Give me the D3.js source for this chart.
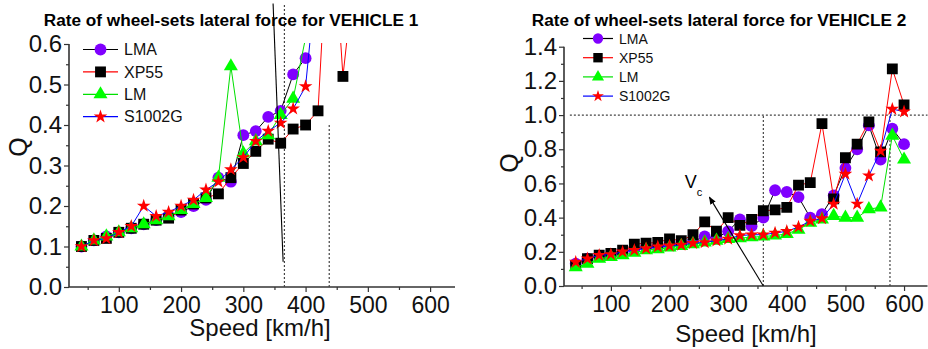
<!DOCTYPE html>
<html>
<head>
<meta charset="utf-8">
<script src="https://cdn.jsdelivr.net/npm/d3@7"></script>
<style>
  body { margin: 0; background: #fff; }
  text { font-family: "Liberation Sans", Arial, sans-serif; }
</style>
</head>
<body>
<script>
// Vehicle 1 (left panel)
var speedsL40to400 = [40,60,80,100,120,140,160,180,200,220,240,260,280,300,320,340,360,380,400];
var speedsL40to420 = [40,60,80,100,120,140,160,180,200,220,240,260,280,300,320,340,360,380,400,420];
var speedsL40to480 = [40,60,80,100,120,140,160,180,200,220,240,260,280,300,320,340,360,380,400,420,440,460,480];
var lmaL    = [0.10,0.115,0.125,0.135,0.145,0.155,0.165,0.175,0.185,0.20,0.215,0.27,0.26,0.375,0.385,0.42,0.435,0.525,0.565];
var xp55L   = [0.10,0.115,0.12,0.135,0.145,0.155,0.165,0.17,0.19,0.205,0.22,0.23,0.27,0.305,0.335,0.365,0.355,0.39,0.40,0.435,1.0,0.52,0.80];
var lmL     = [0.10,0.115,0.125,0.135,0.145,0.155,0.165,0.175,0.19,0.205,0.22,0.27,0.545,0.33,0.36,0.375,0.425,0.465,0.615];
var s1002gL = [0.10,0.115,0.12,0.135,0.15,0.20,0.175,0.185,0.20,0.215,0.24,0.26,0.29,0.32,0.36,0.385,0.405,0.44,0.495,0.81];

// Vehicle 2 (right panel)
var speedsR = [40,60,80,100,120,140,160,180,200,220,240,260,280,300,320,340,360,380,400,420,440,460,480,500,520,540,560,580,600];
var lmaR    = [0.13,0.16,0.175,0.185,0.20,0.215,0.225,0.23,0.24,0.25,0.26,0.29,0.28,0.32,0.39,0.35,0.40,0.56,0.55,0.52,0.40,0.42,0.53,0.69,0.80,0.94,0.74,0.92,0.83];
var xp55R   = [0.12,0.16,0.18,0.19,0.21,0.245,0.25,0.255,0.275,0.265,0.30,0.375,0.32,0.40,0.355,0.39,0.44,0.445,0.46,0.59,0.605,0.95,0.51,0.75,0.83,0.96,0.785,1.27,1.06];
var lmR     = [0.11,0.13,0.16,0.17,0.18,0.195,0.21,0.215,0.225,0.235,0.245,0.255,0.265,0.275,0.28,0.285,0.29,0.295,0.305,0.33,0.37,0.39,0.41,0.40,0.40,0.45,0.46,0.88,0.74];
var s1002gR = [0.14,0.16,0.18,0.185,0.20,0.21,0.22,0.23,0.235,0.24,0.25,0.255,0.265,0.275,0.295,0.30,0.30,0.31,0.32,0.345,0.38,0.395,0.48,0.655,0.48,0.645,0.79,1.035,1.02];

var seriesNames = ["LMA", "XP55", "LM", "S1002G"];
var xTicks = [100, 200, 300, 400, 500, 600];
var xMinor = [50, 150, 250, 350, 450, 550];
var yTicksL = [0, 0.1, 0.2, 0.3, 0.4, 0.5, 0.6];
var yMinorL = [0.05, 0.15, 0.25, 0.35, 0.45, 0.55];
var yTicksR = [0, 0.2, 0.4, 0.6, 0.8, 1.0, 1.2, 1.4];
var yMinorR = [0.1, 0.3, 0.5, 0.7, 0.9, 1.1, 1.3];

var styles = {
  LMA:    {line: "#000", fill: "#8000ff", sym: d3.symbolCircle, size: 110},
  XP55:   {line: "#ff0000", fill: "#000", sym: d3.symbolSquare, size: 118},
  LM:     {line: "#00e000", fill: "#00ff00", sym: d3.symbolTriangle, size: 85},
  S1002G: {line: "#0000ff", fill: "#ff0000", sym: d3.symbolStar, size: 58}
};

var svg = d3.select("body").append("svg")
    .attr("width", 928).attr("height", 349);
svg.append("rect").attr("width", 928).attr("height", 349).attr("fill", "#fff");

var defs = svg.append("defs");
defs.append("marker")
    .attr("id", "arrow")
    .attr("viewBox", "0 0 10 10")
    .attr("refX", 9).attr("refY", 5)
    .attr("markerWidth", 7).attr("markerHeight", 7)
    .attr("orient", "auto")
  .append("path")
    .attr("d", "M0,1 L10,5 L0,9 Z")
    .attr("fill", "#000");

function drawPanel(p) {
  var g = svg.append("g");
  var x = d3.scaleLinear().domain([20, 640]).range(p.xr);
  var y = d3.scaleLinear().domain(p.yd).range(p.yr);

  defs.append("clipPath").attr("id", p.id)
    .append("rect")
    .attr("x", p.xr[0]).attr("y", p.yr[1] - 1)
    .attr("width", p.xr[1] - p.xr[0]).attr("height", p.yr[0] - p.yr[1] + 1);

  // axes
  var xa = g.append("g").attr("transform", "translate(0," + p.yr[0] + ")")
    .call(d3.axisBottom(x).tickValues(xTicks).tickSize(5).tickPadding(5));
  g.append("g").attr("transform", "translate(0," + p.yr[0] + ")")
    .call(d3.axisBottom(x).tickValues(xMinor).tickSize(3).tickFormat(""))
    .select(".domain").remove();
  var ya = g.append("g").attr("transform", "translate(" + p.xr[0] + ",0)")
    .call(d3.axisLeft(y).tickValues(p.yTicks).tickSize(5).tickPadding(2).tickFormat(d3.format(".1f")));
  g.append("g").attr("transform", "translate(" + p.xr[0] + ",0)")
    .call(d3.axisLeft(y).tickValues(p.yMinor).tickSize(3).tickFormat(""))
    .select(".domain").remove();
  xa.select(".domain").attr("d", "M" + p.xr[0] + ",0H" + p.xr[1]);
  ya.select(".domain").attr("d", "M0," + p.yr[0] + "V" + p.yr[1]);
  g.selectAll(".domain").attr("stroke", "#333").attr("stroke-width", 1.6);
  g.selectAll(".tick line").attr("stroke", "#333").attr("stroke-width", 1.2);
  g.selectAll(".tick text").attr("font-size", p.tickFont).attr("fill", "#111")
    .style("font-family", "'Liberation Sans', Arial, sans-serif");
  xa.selectAll(".tick text").attr("font-size", p.tickFont - 1);

  // reference lines
  p.dotted.forEach(function(d) {
    g.append("line")
      .attr("x1", x(d[0])).attr("y1", y(d[1]))
      .attr("x2", x(d[2])).attr("y2", y(d[3]))
      .attr("stroke", "#444").attr("stroke-width", 1.2)
      .attr("stroke-dasharray", "2,2");
  });

  // series
  var plot = g.append("g").attr("clip-path", "url(#" + p.id + ")");
  p.series.forEach(function(s) {
    var st = styles[s.name];
    var pts = s.speeds.map(function(v, i) { return [v, s.values[i]]; });
    plot.append("path").datum(pts)
      .attr("fill", "none").attr("stroke", st.line).attr("stroke-width", 1)
      .attr("d", d3.line().x(function(d) { return x(d[0]); }).y(function(d) { return y(d[1]); }));
    plot.selectAll(null).data(pts).enter().append("path")
      .attr("transform", function(d) { return "translate(" + x(d[0]) + "," + y(d[1]) + ")"; })
      .attr("d", d3.symbol().type(st.sym).size(st.size))
      .attr("fill", st.fill);
  });

  // annotation line
  if (p.slash) {
    var sl = g.append("line")
      .attr("x1", x(p.slash[0])).attr("y1", y(p.slash[1]))
      .attr("x2", x(p.slash[2])).attr("y2", y(p.slash[3]))
      .attr("stroke", "#000").attr("stroke-width", 1.1);
    if (p.arrow) sl.attr("marker-end", "url(#arrow)");
  }
  if (p.vc) {
    g.append("text").attr("x", x(p.vc[0])).attr("y", y(p.vc[1]))
      .attr("font-size", 18).text("V");
    g.append("text").attr("x", x(p.vc[0]) + 12).attr("y", y(p.vc[1]) + 8)
      .attr("font-size", 11).text("c");
  }

  // legend
  seriesNames.forEach(function(n, i) {
    var st = styles[n];
    var ly = p.leg.y + i * p.leg.dy;
    g.append("line")
      .attr("x1", p.leg.x).attr("x2", p.leg.x + p.leg.w)
      .attr("y1", ly).attr("y2", ly)
      .attr("stroke", st.line).attr("stroke-width", 1.2);
    g.append("path")
      .attr("transform", "translate(" + (p.leg.x + p.leg.w / 2) + "," + ly + ")")
      .attr("d", d3.symbol().type(st.sym).size(st.size * p.leg.k))
      .attr("fill", st.fill);
    g.append("text")
      .attr("x", p.leg.x + p.leg.w + 6).attr("y", ly + p.leg.font * 0.36)
      .attr("font-size", p.leg.font).attr("fill", "#111").text(n);
  });

  // titles
  g.append("text").attr("x", p.title[0]).attr("y", p.title[1])
    .attr("text-anchor", "middle").attr("font-size", 17.2).attr("font-weight", "bold")
    .text(p.titleText);
  g.append("text").attr("x", p.xlab[0]).attr("y", p.xlab[1])
    .attr("text-anchor", "middle").attr("font-size", 24).attr("fill", "#111")
    .text("Speed [km/h]");
  g.append("text")
    .attr("transform", "translate(" + p.ylab[0] + "," + p.ylab[1] + ") rotate(-90)")
    .attr("text-anchor", "middle").attr("font-size", 25).attr("fill", "#111")
    .text("Q");
}

drawPanel({
  id: "clipL",
  xr: [69, 455], yd: [0, 0.6], yr: [287, 44],
  yTicks: yTicksL, yMinor: yMinorL, tickFont: 24,
  series: [
    {name: "LMA", speeds: speedsL40to400, values: lmaL},
    {name: "XP55", speeds: speedsL40to480, values: xp55L},
    {name: "LM", speeds: speedsL40to400, values: lmL},
    {name: "S1002G", speeds: speedsL40to420, values: s1002gL}
  ],
  dotted: [[366, 0, 366, 0.7], [438, 0, 438, 0.4]],
  slash: [347.8, 0.70, 363.9, 0.0625], arrow: false,
  leg: {x: 83, w: 35, y: 49.5, dy: 22.4, font: 16, k: 1},
  title: [231, 26], titleText: "Rate of wheel-sets lateral force for VEHICLE 1",
  xlab: [260, 336], ylab: [27, 147]
});

drawPanel({
  id: "clipR",
  xr: [564, 927.5], yd: [0, 1.4], yr: [286, 46.7],
  yTicks: yTicksR, yMinor: yMinorR, tickFont: 24,
  series: [
    {name: "LMA", speeds: speedsR, values: lmaR},
    {name: "XP55", speeds: speedsR, values: xp55R},
    {name: "LM", speeds: speedsR, values: lmR},
    {name: "S1002G", speeds: speedsR, values: s1002gR}
  ],
  dotted: [[30, 1.0, 640, 1.0], [360, 0, 360, 1.0], [576, 0, 576, 1.0]],
  slash: [360, 0, 268, 0.52], arrow: true,
  vc: [226, 0.575],
  leg: {x: 583, w: 30, y: 38.5, dy: 19.2, font: 14, k: 0.75},
  title: [719, 26], titleText: "Rate of wheel-sets lateral force for VEHICLE 2",
  xlab: [746, 342], ylab: [518, 163]
});
</script>
</body>
</html>
